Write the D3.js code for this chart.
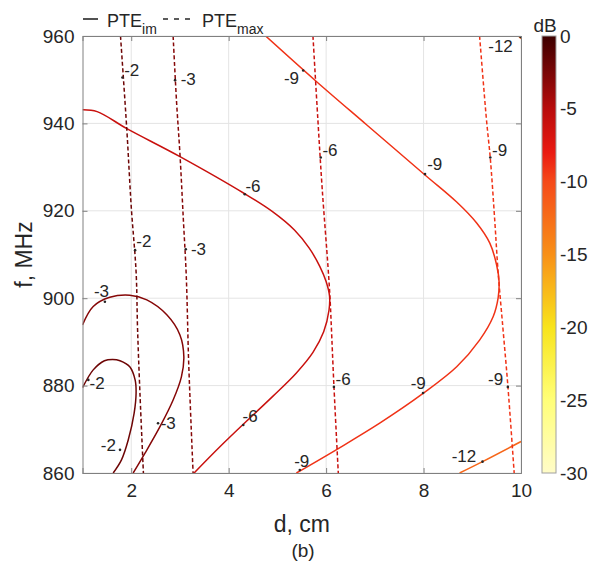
<!DOCTYPE html>
<html>
<head>
<meta charset="utf-8">
<style>
body, html {
  margin: 0;
  padding: 0;
  background: #fff;
  font-family: "Liberation Sans", Arial, sans-serif;
}
.grid line {
  stroke: #e4e4e4;
  stroke-width: 1;
}
.axis path, .axis line {
  stroke: #808080;
}
.axis text {
  font-size: 19px;
  fill: #262626;
}
.contour {
  fill: none;
  stroke-width: 1.5;
}
.dashed {
  stroke-dasharray: 4, 2.5;
}
.clabel {
  font-size: 17px;
  fill: #262626;
}
</style>
<script src="https://d3js.org/d3.v7.min.js"></script>
</head>
<body>
<script>

//==========================================
// data (d in cm, f in MHz, levels in dB)
var xTicks = [2, 4, 6, 8, 10];
var yTicks = [860, 880, 900, 920, 940, 960];
var cbTicks = [0, -5, -10, -15, -20, -25, -30];

// colormap stops of the colorbar
var cmapLevels = [0, -5, -8, -10, -15, -20, -25, -30];
var cmapColors = ["#3c0000", "#b80c0c", "#ea1a12", "#f54a1a", "#f89018", "#f8e41c", "#ffff78", "#fffcc8"];

// PTE_im contours (solid)
var im_m2 = [[1.0,879.5],[1.22,883.6],[1.45,885.7],[1.62,886.0],[1.77,885.7],[1.97,884.3],[2.08,881.3],
             [2.1,878.3],[2.06,873.7],[1.94,867.6],[1.8,863],[1.63,860]];
var im_m3 = [[1.0,893.9],[1.22,898.1],[1.56,900.2],[1.97,900.7],[2.32,899.6],[2.73,896.2],[3.0,891.6],
             [3.08,886.6],[3.03,882.0],[2.86,876.7],[2.59,870.6],[2.28,864.5],[2.04,860]];
var im_m6 = [[1.0,943.1],[1.3,942.7],[1.91,938.8],[3.0,932.4],[4.33,923.9],[4.9,919.8],[5.35,915.6],
             [5.65,911.5],[5.87,907.3],[6.0,903.8],[6.07,900.5],[6.06,897.3],[5.95,892.3],[5.73,887.6],
             [5.39,882.9],[4.91,877.6],[4.37,871.9],[3.82,866],[3.29,860]];
var im_m9 = [[4.74,960.2],[5.8,949.6],[6.83,939.7],[8.03,928.2],[8.68,922.0],[9.09,917.2],[9.36,912.6],
             [9.5,907.6],[9.55,903.8],[9.53,900],[9.43,895.8],[9.15,890.4],[8.68,884.3],[7.99,878.2],
             [7.1,871.4],[6.25,865.6],[5.39,860]];
var im_m12a = [[8.74,860],[9.21,862.6],[10.0,867.2]];
var im_m12b = [[9.95,960],[10.0,959.4]];

// PTE_max contours (dashed)
var max_m2 = [[1.78,960],[1.91,938.5],[2.0,921],[2.1,906],[2.13,893],[2.18,878],[2.25,860]];
var max_m3 = [[2.86,960],[2.93,945],[3.0,933],[3.07,918],[3.13,905],[3.18,885],[3.27,860]];
var max_m6 = [[5.73,960],[5.83,941],[5.92,925],[6.04,907],[6.08,900],[6.16,880],[6.25,860]];
var max_m9 = [[9.15,960],[9.29,941],[9.37,932],[9.46,918],[9.53,906],[9.63,893],[9.73,880],[9.86,860]];

// contour labels [d, f, text]
var labels = [
  [2.01,952.1,"-2"], [3.17,950.1,"-3"], [4.50,925.5,"-6"], [5.29,950.3,"-9"],
  [2.26,912.9,"-2"], [3.38,911.2,"-3"], [1.39,901.6,"-3"], [1.30,880.5,"-2"],
  [2.76,871.4,"-3"], [1.53,866.4,"-2"], [4.44,872.9,"-6"], [5.50,862.7,"-9"],
  [9.58,957.6,"-12"], [6.08,933.9,"-6"], [8.23,930.5,"-9"], [9.56,933.9,"-9"],
  [6.35,881.5,"-6"], [7.89,880.4,"-9"], [9.48,881.3,"-9"], [8.83,863.7,"-12"]
];

// small label markers on the lines [d, f]
var labelMarks = [
  [1.82,950.5], [2.90,949.9], [4.33,923.8], [5.53,952.1], [2.08,911.0], [3.12,911.2],
  [1.46,899.2], [1.12,881.3], [2.55,871.4], [1.77,865.3], [4.30,871.0], [5.46,860.7],
  [9.99,959.8], [5.89,932.2], [8.03,928.4], [9.37,932.2], [6.16,879.7], [7.99,878.3],
  [9.73,879.7], [9.21,862.6]
];

var contours = [
  {level: -2, pts: im_m2, dashed: false},
  {level: -3, pts: im_m3, dashed: false},
  {level: -6, pts: im_m6, dashed: false},
  {level: -9, pts: im_m9, dashed: false},
  {level: -12, pts: im_m12a, dashed: false},
  {level: -12, pts: im_m12b, dashed: false},
  {level: -2, pts: max_m2, dashed: true},
  {level: -3, pts: max_m3, dashed: true},
  {level: -6, pts: max_m6, dashed: true},
  {level: -9, pts: max_m9, dashed: true}
];

//==========================================
var width = 595, height = 566;
var pLeft = 82.5, pRight = 521, pTop = 36, pBottom = 473;

var x = d3.scaleLinear().domain([1, 10]).range([pLeft, pRight]);
var y = d3.scaleLinear().domain([860, 960]).range([pBottom, pTop]);
var color = d3.scaleLinear().domain(cmapLevels).range(cmapColors).clamp(true);

var svg = d3.select("body").append("svg")
    .attr("width", width)
    .attr("height", height);

svg.append("clipPath").attr("id", "clip")
  .append("rect")
    .attr("x", pLeft).attr("y", pTop)
    .attr("width", pRight - pLeft).attr("height", pBottom - pTop);

//--------------------------------------
// grid
var grid = svg.append("g").attr("class", "grid");
grid.selectAll("line.gx").data(xTicks).enter().append("line")
    .attr("x1", d => x(d)).attr("x2", d => x(d))
    .attr("y1", pTop).attr("y2", pBottom);
grid.selectAll("line.gy").data(yTicks).enter().append("line")
    .attr("x1", pLeft).attr("x2", pRight)
    .attr("y1", d => y(d)).attr("y2", d => y(d));

//--------------------------------------
// contours
var line = d3.line()
    .x(d => x(d[0]))
    .y(d => y(d[1]))
    .curve(d3.curveCatmullRom.alpha(0.5));

var cg = svg.append("g").attr("clip-path", "url(#clip)");
cg.selectAll("path").data(contours).enter().append("path")
    .attr("class", d => d.dashed ? "contour dashed" : "contour")
    .attr("stroke", d => color(d.level))
    .attr("d", d => line(d.pts));

cg.selectAll("circle").data(labelMarks).enter().append("circle")
    .attr("cx", d => x(d[0]))
    .attr("cy", d => y(d[1]))
    .attr("r", 1.3)
    .attr("fill", "#262626");

svg.append("g").selectAll("text").data(labels).enter().append("text")
    .attr("class", "clabel")
    .attr("x", d => x(d[0]))
    .attr("y", d => y(d[1]))
    .attr("text-anchor", "middle")
    .attr("dominant-baseline", "central")
    .text(d => d[2]);

//--------------------------------------
// axes (ticks inward, box all round)
svg.append("g").attr("class", "axis")
    .attr("transform", "translate(0," + pBottom + ")")
    .call(d3.axisBottom(x).tickValues(xTicks).tickSize(-5).tickPadding(11).tickFormat(d3.format("d")));
svg.append("g").attr("class", "axis")
    .attr("transform", "translate(" + pLeft + ",0)")
    .call(d3.axisLeft(y).tickValues(yTicks).tickSize(-5).tickPadding(8).tickFormat(d3.format("d")));
svg.append("g").attr("class", "axis")
    .attr("transform", "translate(0," + pTop + ")")
    .call(d3.axisTop(x).tickValues(xTicks).tickSize(-5).tickFormat(""));
svg.append("g").attr("class", "axis")
    .attr("transform", "translate(" + pRight + ",0)")
    .call(d3.axisRight(y).tickValues(yTicks).tickSize(-5).tickFormat(""));
svg.selectAll(".axis .domain").attr("stroke", "#808080");

svg.append("text")
    .attr("x", (pLeft + pRight) / 2).attr("y", 532)
    .attr("text-anchor", "middle")
    .style("font-size", "23px").style("fill", "#262626")
    .text("d, cm");

svg.append("text")
    .attr("transform", "translate(32," + (pTop + pBottom) / 2 + ") rotate(-90)")
    .attr("text-anchor", "middle")
    .style("font-size", "23px").style("fill", "#262626")
    .text("f, MHz");

svg.append("text")
    .attr("x", 303).attr("y", 557)
    .attr("text-anchor", "middle")
    .style("font-size", "19px").style("fill", "#262626")
    .text("(b)");

//--------------------------------------
// legend
var lg = svg.append("g").style("font-size", "18px").style("fill", "#262626");
lg.append("line").attr("x1", 83).attr("x2", 98).attr("y1", 19).attr("y2", 19)
    .attr("stroke", "#262626").attr("stroke-width", 1.6);
var t1 = lg.append("text").attr("x", 107).attr("y", 27);
t1.append("tspan").text("PTE");
t1.append("tspan").attr("dy", 7).style("font-size", "14px").text("im");
lg.append("line").attr("x1", 163).attr("x2", 191).attr("y1", 19).attr("y2", 19)
    .attr("stroke", "#262626").attr("stroke-width", 1.6).attr("stroke-dasharray", "5,6");
var t2 = lg.append("text").attr("x", 202).attr("y", 27);
t2.append("tspan").text("PTE");
t2.append("tspan").attr("dy", 7).style("font-size", "14px").text("max");

//--------------------------------------
// colorbar
var cbLeft = 542, cbWidth = 14;
var cy = d3.scaleLinear().domain([-30, 0]).range([pBottom, pTop]);

var grad = svg.append("defs").append("linearGradient")
    .attr("id", "cbgrad")
    .attr("x1", 0).attr("y1", 1).attr("x2", 0).attr("y2", 0);
grad.selectAll("stop").data(d3.range(0, 31)).enter().append("stop")
    .attr("offset", d => d / 30)
    .attr("stop-color", d => color(d - 30));

svg.append("rect")
    .attr("x", cbLeft).attr("y", pTop)
    .attr("width", cbWidth).attr("height", pBottom - pTop)
    .attr("fill", "url(#cbgrad)")
    .attr("stroke", "#a0a0a0").attr("stroke-width", 1);

svg.append("g").selectAll("text").data(cbTicks).enter().append("text")
    .attr("x", cbLeft + cbWidth + 4)
    .attr("y", d => cy(d))
    .attr("dominant-baseline", "central")
    .style("font-size", "19px").style("fill", "#262626")
    .text(d => d);

svg.append("text")
    .attr("x", 545).attr("y", 32)
    .attr("text-anchor", "middle")
    .style("font-size", "19px").style("fill", "#262626")
    .text("dB");

</script>
</body>
</html>
